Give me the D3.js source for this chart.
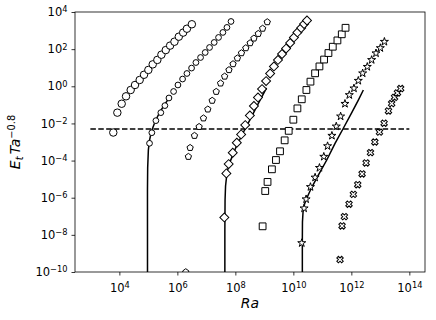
<!DOCTYPE html>
<html>
<head>
<meta charset="utf-8">
<script src="https://cdn.jsdelivr.net/npm/d3@7"></script>
<style>
  body { margin: 0; background: #fff; }
  svg { font-family: "DejaVu Sans", sans-serif; }
</style>
</head>
<body>
<div id="container"></div>
<script>
// values are log10 exponents

// series 1 - large circles
const s1LogRa = [3.79, 3.93, 4.08, 4.23, 4.39, 4.54, 4.70, 4.85, 5.00, 5.15, 5.31, 5.45, 5.60, 5.75, 5.90, 6.05, 6.20, 6.33, 6.50]
const s1LogE = [-2.49, -1.42, -0.94, -0.54, -0.20, 0.07, 0.34, 0.62, 0.88, 1.18, 1.42, 1.70, 1.95, 2.19, 2.40, 2.67, 2.89, 3.10, 3.34]

// series 2 - small circles
const s2LogRa = [5.04, 5.12, 5.26, 5.43, 5.57, 5.71, 5.87, 6.02, 6.18, 6.33, 6.49, 6.64, 6.80, 6.96, 7.11, 7.27, 7.42, 7.57, 7.71, 7.85]
const s2LogE = [-3.07, -2.50, -1.85, -1.42, -1.04, -0.63, -0.28, 0.07, 0.39, 0.69, 0.98, 1.28, 1.55, 1.82, 2.09, 2.36, 2.63, 2.90, 3.17, 3.49]

// series 3 - pentagons
const s3LogRa = [6.29, 6.38, 6.44, 6.59, 6.75, 6.90, 7.05, 7.20, 7.34, 7.49, 7.63, 7.78, 7.92, 8.07, 8.21, 8.36, 8.51, 8.64, 8.79, 8.94, 9.10]
const s3LogE = [-10.0, -3.79, -3.31, -2.66, -2.18, -1.72, -1.24, -0.77, -0.29, 0.16, 0.53, 0.88, 1.20, 1.51, 1.79, 2.06, 2.33, 2.58, 2.83, 3.11, 3.46]

// series 4 - diamonds
const s4LogRa = [7.62, 7.69, 7.77, 7.91, 8.05, 8.20, 8.34, 8.50, 8.64, 8.78, 8.92, 9.06, 9.20, 9.33, 9.47, 9.61, 9.75, 9.89, 10.02, 10.14, 10.27, 10.37, 10.47]
const s4LogE = [-7.06, -4.69, -4.19, -3.58, -3.04, -2.59, -2.09, -1.57, -1.06, -0.60, -0.15, 0.28, 0.69, 1.07, 1.42, 1.74, 2.03, 2.33, 2.63, 2.90, 3.14, 3.35, 3.54]

// series 5 - squares
const s5LogRa = [8.94, 9.03, 9.11, 9.26, 9.40, 9.54, 9.70, 9.84, 10.00, 10.14, 10.29, 10.45, 10.59, 10.75, 10.90, 11.06, 11.21, 11.36, 11.52, 11.67, 11.80]
const s5LogE = [-7.54, -5.64, -5.15, -4.47, -3.97, -3.50, -2.91, -2.40, -1.80, -1.19, -0.70, -0.20, 0.25, 0.70, 1.07, 1.44, 1.79, 2.13, 2.47, 2.80, 3.15]

// series 6 - stars
const s6LogRa = [10.29, 10.37, 10.44, 10.59, 10.75, 10.90, 11.05, 11.18, 11.33, 11.48, 11.63, 11.78, 11.93, 12.09, 12.24, 12.39, 12.55, 12.70, 12.85, 13.00, 13.14]
const s6LogE = [-8.44, -6.57, -6.08, -5.42, -4.91, -4.39, -3.79, -3.22, -2.66, -2.16, -1.62, -0.94, -0.47, -0.11, 0.30, 0.70, 1.05, 1.42, 1.78, 2.06, 2.40]

// series 7 - crosses
const s7LogRa = [11.61, 11.68, 11.76, 11.92, 12.07, 12.22, 12.37, 12.51, 12.66, 12.81, 12.97, 13.13, 13.28, 13.39, 13.49, 13.59, 13.70]
const s7LogE = [-9.33, -7.52, -7.02, -6.35, -5.82, -5.30, -4.72, -4.13, -3.57, -3.00, -2.47, -1.99, -1.33, -0.93, -0.60, -0.36, -0.12]

// theory curves (solid lines)
const c1LogRa = [4.97, 4.97, 4.969, 4.976, 5.00, 5.034, 5.086, 5.162, 5.248, 5.403, 5.576, 5.748]
const c1LogE = [-10.0, -7.74, -5.59, -4.40, -3.43, -2.95, -2.57, -2.19, -1.84, -1.37, -0.95, -0.55]
const c2LogRa = [7.638, 7.638, 7.645, 7.662, 7.714, 7.80, 7.876, 8.024, 8.162, 8.334, 8.507, 8.793, 9.076]
const c2LogE = [-10.0, -7.74, -6.12, -5.37, -4.62, -4.13, -3.84, -3.27, -2.84, -2.30, -1.79, -0.92, -0.09]
const c3LogRa = [10.310, 10.310, 10.314, 10.334, 10.386, 10.462, 10.634, 10.862, 11.152, 11.438, 11.724, 12.014, 12.241, 12.414]
const c3LogE = [-10.0, -8.28, -7.31, -6.77, -6.34, -6.03, -5.44, -4.78, -3.97, -3.07, -2.26, -1.42, -0.74, -0.20]

// dashed threshold
const threshold = 5e-3
const thresholdRa = [1e3, 1e14]

const xTicks = [1e4, 1e6, 1e8, 1e10, 1e12, 1e14]
const yTicks = [1e-10, 1e-8, 1e-6, 1e-4, 1e-2, 1e0, 1e2, 1e4]

const width = 436, height = 320
const margin = { top: 12, right: 11, bottom: 48, left: 75 }

const xScale = d3.scaleLog()
  .domain([10 ** 2.47, 10 ** 14.54])
  .range([margin.left, width - margin.right])

const yScale = d3.scaleLog()
  .domain([1e-10, 1e4])
  .range([height - margin.bottom, margin.top])

const svg = d3.select("#container")
  .append("svg")
  .attr("width", width)
  .attr("height", height)

svg.append("clipPath")
  .attr("id", "plotClip")
  .append("rect")
  .attr("x", margin.left)
  .attr("y", margin.top)
  .attr("width", width - margin.left - margin.right)
  .attr("height", height - margin.top - margin.bottom)

const plot = svg.append("g").attr("clip-path", "url(#plotClip)")

// custom pentagon marker
const symbolPentagon = {
  draw(ctx, size) {
    const r = Math.sqrt(size / 2.378)
    for (let i = 0; i < 5; i++) {
      const a = -Math.PI / 2 + i * 2 * Math.PI / 5
      if (i === 0) ctx.moveTo(r * Math.cos(a), r * Math.sin(a))
      else ctx.lineTo(r * Math.cos(a), r * Math.sin(a))
    }
    ctx.closePath()
  }
}

const toPoints = (xs, ys) => xs.map((v, i) => ({ ra: 10 ** v, e: 10 ** ys[i] }))

// dashed line
plot.append("line")
  .attr("x1", xScale(thresholdRa[0]))
  .attr("x2", xScale(thresholdRa[1]))
  .attr("y1", yScale(threshold))
  .attr("y2", yScale(threshold))
  .attr("stroke", "black")
  .attr("stroke-width", 1.5)
  .attr("stroke-dasharray", "5.5,2.4")

// solid curves
const lineGen = d3.line()
  .x(d => xScale(d.ra))
  .y(d => yScale(d.e))

const curves = [
  toPoints(c1LogRa, c1LogE),
  toPoints(c2LogRa, c2LogE),
  toPoints(c3LogRa, c3LogE)
]

plot.selectAll(".curve")
  .data(curves)
  .join("path")
  .attr("class", "curve")
  .attr("fill", "none")
  .attr("stroke", "black")
  .attr("stroke-width", 1.5)
  .attr("d", d => lineGen(d))

// marker series
const series = [
  { pts: toPoints(s1LogRa, s1LogE), type: d3.symbolCircle, size: 44, rot: 0 },
  { pts: toPoints(s2LogRa, s2LogE), type: d3.symbolCircle, size: 26, rot: 0 },
  { pts: toPoints(s3LogRa, s3LogE), type: symbolPentagon, size: 26, rot: 0 },
  { pts: toPoints(s4LogRa, s4LogE), type: d3.symbolSquare, size: 40, rot: 45 },
  { pts: toPoints(s5LogRa, s5LogE), type: d3.symbolSquare, size: 46, rot: 0 },
  { pts: toPoints(s6LogRa, s6LogE), type: d3.symbolStar, size: 20, rot: 0 },
  { pts: toPoints(s7LogRa, s7LogE), type: d3.symbolCross, size: 26, rot: 45 }
]

series.forEach(s => {
  const sym = d3.symbol().type(s.type).size(s.size)
  plot.append("g")
    .selectAll("path")
    .data(s.pts)
    .join("path")
    .attr("d", sym)
    .attr("transform", d => `translate(${xScale(d.ra)},${yScale(d.e)}) rotate(${s.rot})`)
    .attr("fill", "white")
    .attr("stroke", "black")
    .attr("stroke-width", 1)
})

// frame
svg.append("rect")
  .attr("x", margin.left)
  .attr("y", margin.top)
  .attr("width", width - margin.left - margin.right)
  .attr("height", height - margin.top - margin.bottom)
  .attr("fill", "none")
  .attr("stroke", "black")
  .attr("stroke-width", 0.8)

// tick labels as 10^n
const powerLabel = (sel) => {
  sel.selectAll(".tick text").each(function (d) {
    const t = d3.select(this)
    const n = Math.round(Math.log10(d))
    t.text("10")
    t.append("tspan")
      .attr("dy", "-0.45em")
      .attr("font-size", "0.72em")
      .text(n < 0 ? "\u2212" + (-n) : n)
  })
}

const xAxis = d3.axisBottom(xScale)
  .tickValues(xTicks)
  .tickSize(3.5)
  .tickPadding(4)

const xAxisGroup = svg.append("g")
  .attr("class", "xAxis")
  .attr("transform", `translate(0, ${height - margin.bottom})`)
  .call(xAxis)
  .call(powerLabel)

const yAxis = d3.axisLeft(yScale)
  .tickValues(yTicks)
  .tickSize(3.5)
  .tickPadding(4)

const yAxisGroup = svg.append("g")
  .attr("class", "yAxis")
  .attr("transform", `translate(${margin.left}, 0)`)
  .call(yAxis)
  .call(powerLabel)

svg.selectAll(".xAxis .domain, .yAxis .domain").remove()
svg.selectAll(".tick line").attr("stroke", "black").attr("stroke-width", 0.8)
svg.selectAll(".tick text")
  .attr("font-family", "DejaVu Sans")
  .attr("font-size", 11.5)
  .attr("fill", "black")
xAxisGroup.selectAll(".tick text").attr("dy", "1.05em")

// axis titles
svg.append("text")
  .attr("class", "xLabel")
  .attr("x", (margin.left + width - margin.right) / 2)
  .attr("y", 308)
  .attr("text-anchor", "middle")
  .attr("font-size", 14)
  .attr("font-style", "italic")
  .text("Ra")

const yLabel = svg.append("text")
  .attr("class", "yLabel")
  .attr("transform", `translate(20, ${(margin.top + height - margin.bottom) / 2}) rotate(-90)`)
  .attr("text-anchor", "middle")
  .attr("font-size", 14)

yLabel.append("tspan").attr("font-style", "italic").text("E")
yLabel.append("tspan").attr("font-style", "italic").attr("font-size", "0.7em").attr("dy", "0.3em").text("t")
yLabel.append("tspan").attr("font-style", "italic").attr("dy", "-0.21em").attr("dx", "0.15em").text("Ta")
yLabel.append("tspan").attr("font-size", "0.7em").attr("dy", "-0.55em").text("\u22120.8")
</script>
</body>
</html>
